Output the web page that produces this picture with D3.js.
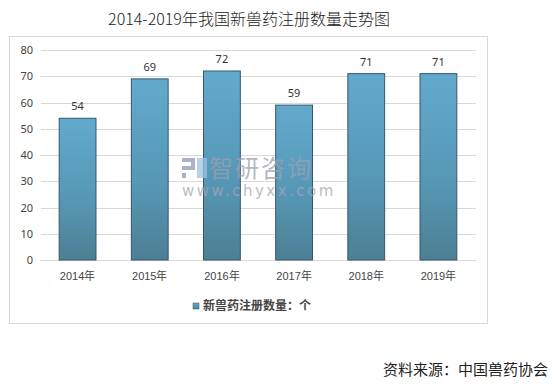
<!DOCTYPE html>
<html lang='zh-CN'>
<head>
    <meta charset='utf-8'>
    <title>新兽药注册数量</title>
    <style>
        body { margin: 0; background: #fff; }
        svg { display: block; font-family: 'Noto Sans CJK SC', 'Noto Sans', sans-serif; }
    </style>
    <script src='https://d3js.org/d3.v7.min.js'></script>
</head>
<body>
    <div id='chart'></div>
    <script type="text/javascript">
        const WIDTH = 555;
        const HEIGHT = 389;

        // data
        var years = ['2014年', '2015年', '2016年', '2017年', '2018年', '2019年'];
        var counts = [54, 69, 72, 59, 71, 71];
        var yTicks = [0, 10, 20, 30, 40, 50, 60, 70, 80];
        var seriesName = '新兽药注册数量：个';

        var svg = d3.select('#chart')
            .append('svg')
            .attr('width', WIDTH)
            .attr('height', HEIGHT);

        var defs = svg.append('defs');
        var grad = defs.append('linearGradient')
            .attr('id', 'barGrad')
            .attr('x1', 0).attr('y1', 0)
            .attr('x2', 0).attr('y2', 1);
        grad.append('stop').attr('offset', '0%').attr('stop-color', '#62aacd');
        grad.append('stop').attr('offset', '60%').attr('stop-color', '#5696b4');
        grad.append('stop').attr('offset', '100%').attr('stop-color', '#4c7f93');

        // title
        svg.append('text')
            .attr('x', 249)
            .attr('y', 25)
            .attr('text-anchor', 'middle')
            .attr('font-size', '16px')
            .attr('font-weight', 300)
            .attr('fill', '#222')
            .text('2014-2019年我国新兽药注册数量走势图');

        // frame
        svg.append('rect')
            .attr('x', 9.5)
            .attr('y', 36.5)
            .attr('width', 478)
            .attr('height', 287)
            .attr('fill', 'none')
            .attr('stroke', '#d9d9d9');

        var x = d3.scaleBand()
            .domain(years)
            .range([41.5, 474.5])
            .paddingInner(0.49)
            .paddingOuter(0.245);

        var y = d3.scaleLinear()
            .domain([0, 80])
            .range([260, 50]);

        // grid
        svg.append('g')
            .selectAll('line')
            .data(yTicks)
            .enter()
            .append('line')
            .attr('x1', 41)
            .attr('x2', 476)
            .attr('y1', function (d) { return Math.round(y(d)) + 0.5; })
            .attr('y2', function (d) { return Math.round(y(d)) + 0.5; })
            .attr('stroke', '#d9d9d9');

        // y axis labels
        var yAxis = svg.append('g')
            .attr('transform', 'translate(33,0)')
            .call(d3.axisLeft(y).tickValues(yTicks).tickSize(0).tickPadding(0));
        yAxis.select('.domain').remove();
        yAxis.selectAll('text')
            .attr('font-size', '11px')
            .attr('font-family', "'Noto Sans', sans-serif")
            .attr('fill', '#444');

        // x axis labels
        var xAxis = svg.append('g')
            .attr('transform', 'translate(0,272)')
            .call(d3.axisBottom(x).tickSize(0).tickPadding(0));
        xAxis.select('.domain').remove();
        xAxis.selectAll('text')
            .attr('font-size', '11px')
            .attr('fill', '#444');

        // bars
        svg.append('g')
            .selectAll('rect')
            .data(counts)
            .enter()
            .append('rect')
            .attr('x', function (d, i) { return x(years[i]); })
            .attr('y', function (d) { return y(d); })
            .attr('width', x.bandwidth())
            .attr('height', function (d) { return y(0) - y(d); })
            .attr('fill', 'url(#barGrad)')
            .attr('stroke', '#34586a')
            .attr('stroke-width', 1);

        // value labels
        svg.append('g')
            .selectAll('text')
            .data(counts)
            .enter()
            .append('text')
            .attr('x', function (d, i) { return x(years[i]) + x.bandwidth() / 2; })
            .attr('y', function (d) { return y(d) - 8; })
            .attr('text-anchor', 'middle')
            .attr('font-size', '11px')
            .attr('font-family', "'Noto Sans', sans-serif")
            .attr('fill', '#333')
            .text(function (d) { return d; });

        // watermark
        var wm = svg.append('g').attr('opacity', 0.75);
        wm.append('rect').attr('x', 182).attr('y', 158).attr('width', 13).attr('height', 4).attr('fill', '#8e97b8');
        wm.append('rect').attr('x', 191).attr('y', 158).attr('width', 4).attr('height', 12).attr('fill', '#8e97b8');
        wm.append('rect').attr('x', 182).attr('y', 166).attr('width', 13).attr('height', 4).attr('fill', '#8e97b8');
        wm.append('rect').attr('x', 182).attr('y', 173).attr('width', 4).attr('height', 5).attr('fill', '#8e97b8');
        wm.append('rect').attr('x', 197).attr('y', 158).attr('width', 10).attr('height', 20).attr('fill', '#9cc3e3');
        wm.append('text')
            .attr('x', 209)
            .attr('y', 177)
            .attr('font-size', '24px')
            .attr('letter-spacing', '2px')
            .attr('fill', '#9aa0b0')
            .text('智研咨询');
        wm.append('text')
            .attr('x', 182)
            .attr('y', 196)
            .attr('font-size', '15px')
            .attr('letter-spacing', '2.5px')
            .attr('font-family', "'DejaVu Sans', sans-serif")
            .attr('fill', '#a4a8b0')
            .text('www.chyxx.com');

        // legend
        svg.append('rect')
            .attr('x', 193)
            .attr('y', 303)
            .attr('width', 6)
            .attr('height', 6)
            .attr('fill', 'url(#barGrad)')
            .attr('stroke', '#34586a')
            .attr('stroke-width', 0.5);
        svg.append('text')
            .attr('x', 203)
            .attr('y', 310)
            .attr('font-size', '12px')
            .attr('font-weight', 'bold')
            .attr('fill', '#444')
            .text(seriesName);

        // source
        svg.append('text')
            .attr('x', 548)
            .attr('y', 375)
            .attr('text-anchor', 'end')
            .attr('font-size', '15px')
            .attr('fill', '#222')
            .text('资料来源：中国兽药协会');
    </script>
</body>
</html>
